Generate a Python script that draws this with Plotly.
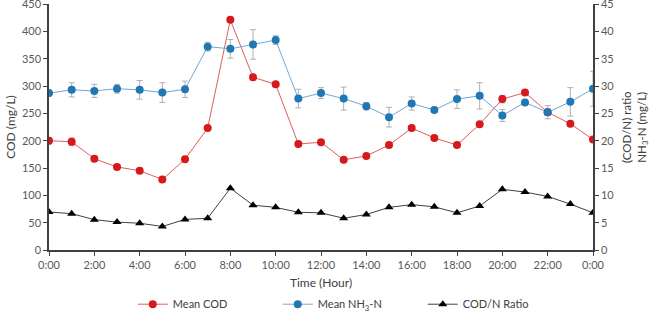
import plotly.graph_objects as go

hours = list(range(25))
tick_vals = list(range(0, 25, 2))
tick_text = ["0:00", "2:00", "4:00", "6:00", "8:00", "10:00", "12:00", "14:00",
             "16:00", "18:00", "20:00", "22:00", "0:00"]

mean_cod = [200, 198, 167, 152, 145, 129, 166, 223, 421, 316, 303, 194, 197,
            165, 172, 192, 223, 205, 192, 230, 276, 288, 252, 231, 202]
cod_err = [6, 7, 3, 4, 3, 3, 3, 3, 3, 5, 3, 3, 3, 3, 3, 3, 3, 3, 3, 3, 7, 3, 6, 3, 3]

mean_nh3 = [28.7, 29.3, 29.1, 29.5, 29.3, 28.8, 29.4, 37.2, 36.8, 37.6, 38.4, 27.7, 28.7,
            27.7, 26.3, 24.3, 26.8, 25.6, 27.6, 28.2, 24.6, 27.0, 25.2, 27.1, 29.5]
nh3_err = [0.5, 1.3, 1.2, 0.8, 1.7, 1.8, 1.5, 0.8, 1.7, 2.7, 0.8, 1.7, 1.0,
           2.1, 0.7, 1.8, 1.2, 0.4, 1.7, 2.4, 1.1, 0.4, 1.2, 2.6, 3.2]

cod_n_ratio = [6.95, 6.65, 5.55, 5.1, 4.9, 4.3, 5.6, 5.8, 11.3, 8.2, 7.8, 6.9, 6.8,
               5.8, 6.5, 7.8, 8.3, 7.9, 6.8, 8.05, 11.1, 10.6, 9.8, 8.4, 6.8]

FONT = "Lato, 'Open Sans', sans-serif"
AX = "#404040"
TICK = "#595959"

fig = go.Figure()
fig.add_trace(go.Scatter(
    x=hours, y=mean_cod, name="Mean COD", mode="lines+markers",
    line=dict(color="#d9605c", width=1),
    marker=dict(color="#d7191c", size=8, symbol="circle"),
    error_y=dict(type="data", array=cod_err, color="#e8a0a0", thickness=1, width=3),
    yaxis="y"))
fig.add_trace(go.Scatter(
    x=hours, y=mean_nh3, name="Mean NH<sub>3</sub>-N", mode="lines+markers",
    line=dict(color="#6fa8d6", width=1),
    marker=dict(color="#1f77b4", size=8, symbol="circle"),
    error_y=dict(type="data", array=nh3_err, color="#b0b0b0", thickness=1, width=3),
    yaxis="y2"))
fig.add_trace(go.Scatter(
    x=hours, y=cod_n_ratio, name="COD/N Ratio", mode="lines+markers",
    line=dict(color="#404040", width=1),
    marker=dict(color="#000000", size=8, symbol="triangle-up"),
    yaxis="y2"))

fig.update_layout(
    width=650, height=312,
    margin=dict(l=49, r=57, t=4, b=62, autoexpand=False),
    paper_bgcolor="white", plot_bgcolor="white",
    font=dict(family=FONT, size=11, color=TICK),
    showlegend=True,
    legend=dict(orientation="h", x=0.154, xanchor="left",
                yref="container", y=0.025, yanchor="middle",
                entrywidth=100, entrywidthmode="pixels",
                font=dict(size=11, color=AX), itemwidth=30,
                bgcolor="rgba(0,0,0,0)"),
    xaxis=dict(range=[0, 24], tickvals=tick_vals, ticktext=tick_text,
               showgrid=False, zeroline=False, showline=True, linecolor=AX, linewidth=1.5,
               ticks="outside", ticklen=4, tickcolor=AX, ticklabeloverflow="allow",
               title=dict(text="Time (Hour)", font=dict(size=12, color=AX), standoff=9)),
    yaxis=dict(range=[0, 450], dtick=50, showgrid=False, zeroline=False,
               showline=True, linecolor=AX, linewidth=1.5, ticks="outside", ticklen=4,
               tickcolor=AX, ticklabeloverflow="allow",
               title=dict(text="COD (mg/L)", font=dict(size=12, color=AX), standoff=4)),
    yaxis2=dict(range=[0, 45], dtick=5, overlaying="y", side="right", showgrid=False,
                zeroline=False, showline=True, linecolor=AX, linewidth=1.5,
                ticks="outside", ticklen=4, tickcolor=AX, ticklabeloverflow="allow"),
    annotations=[dict(text="(COD/N) ratio<br>NH<sub>3</sub>-N (mg/L)",
                      xref="paper", yref="paper", x=1, y=0.5, xanchor="center",
                      yanchor="middle", xshift=42, textangle=-90, showarrow=False,
                      font=dict(family=FONT, size=11.5, color=AX))],
)

fig.write_html("out.html", config={"displayModeBar": False},
               post_script="document.body.style.margin='0px';")
